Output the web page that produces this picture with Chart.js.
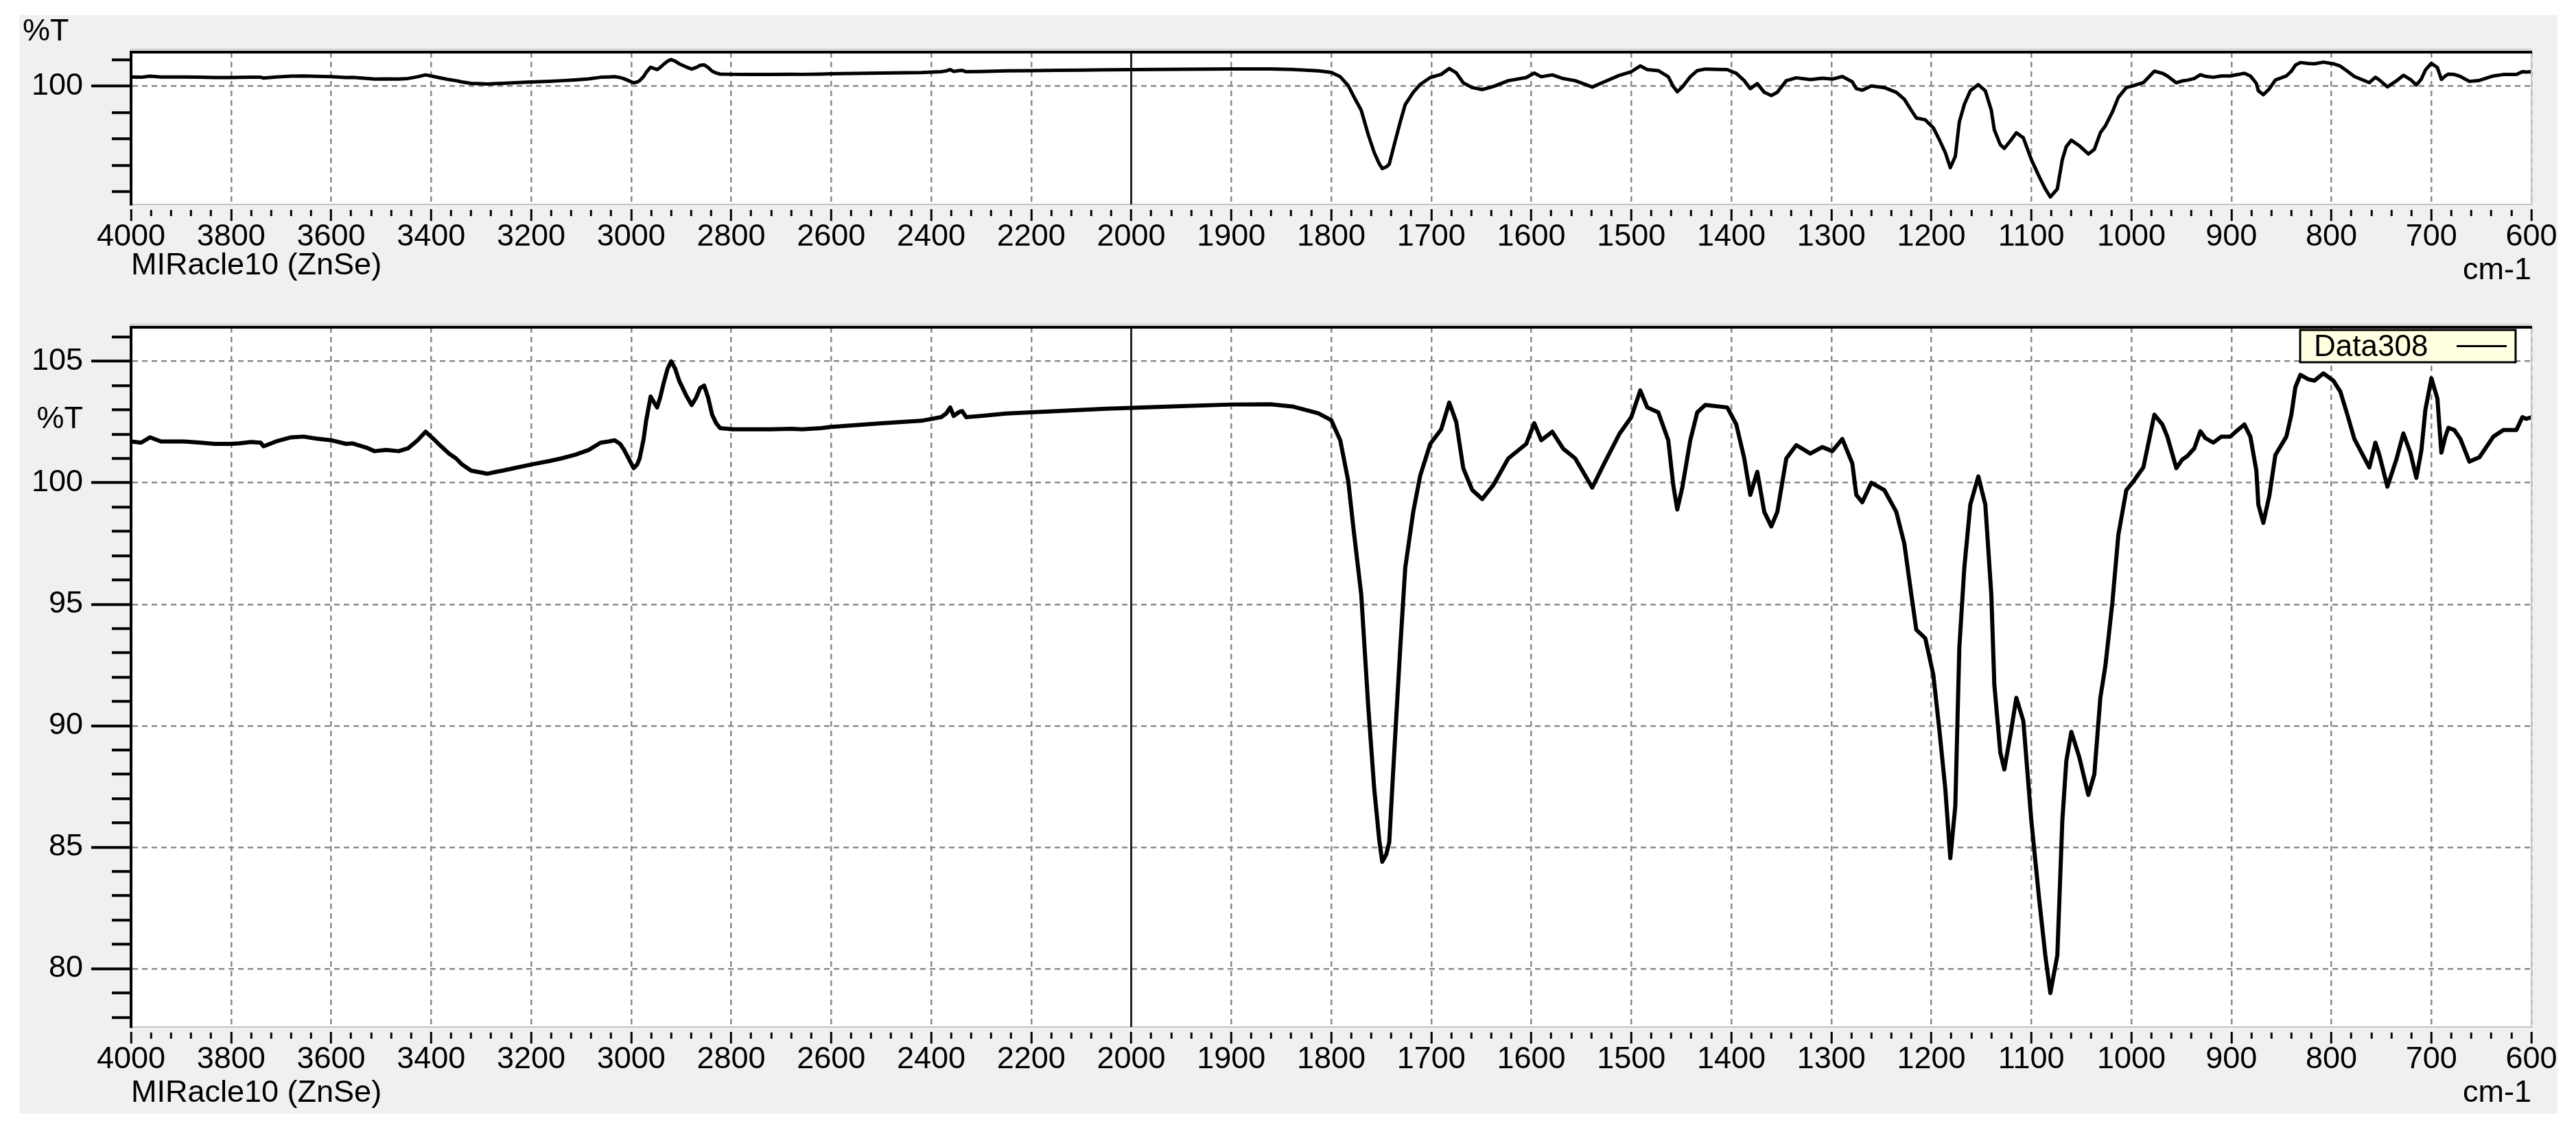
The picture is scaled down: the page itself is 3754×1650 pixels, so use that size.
<!DOCTYPE html>
<html><head><meta charset="utf-8">
<script src="https://cdn.jsdelivr.net/npm/chart.js@4.4.1/dist/chart.umd.min.js"></script>
<style>
html,body{margin:0;padding:0;background:#fff;}
#wrap{position:relative;width:3754px;height:1650px;overflow:hidden;}
#bg{position:absolute;left:28px;top:22px;width:3699px;height:1601px;background:#f0f0f0;}
canvas{position:absolute;left:0;}
#c1{top:0;width:3754px;height:420px;}
#c2{top:420px;width:3754px;height:1230px;}
</style></head><body>
<div id="wrap"><div id="bg"></div>
<canvas id="c1" width="3754" height="420"></canvas>
<canvas id="c2" width="3754" height="1230"></canvas>
</div>
<script>
// ---------------- data ----------------
const seriesName = 'Data308';
const instrumentLabel = 'MIRacle10 (ZnSe)';
const unitLabel = 'cm-1';
const yLabel = '%T';
const scaleBreak = 2000;

const wavenumbers = [
4000,3980,3962,3940,3894,3860,3833,3800,3784,3760,3741,3735,3710,3680,3655,3630,3600,3570,3557,3530,
3513,3490,3465,3446,3427,3411,3395,3380,3364,3350,3338,3320,3300,3288,3270,3257,3230,3200,3162,3140,
3112,3085,3061,3045,3033,3022,3014,3005,2995,2988,2983,2975,2970,2961,2954,2948,2942,2935,2927,2920,
2912,2904,2890,2879,2870,2862,2854,2846,2838,2830,2822,2797,2760,2721,2680,2658,2620,2600,2500,2420,
2380,2370,2362,2355,2345,2338,2330,2300,2250,2200,2150,2100,2050,2000,1950,1900,1861,1839,1813,1800,
1791,1783,1778,1770,1763,1757,1752,1749,1745,1742,1737,1731,1726,1718,1711,1701,1690,1682,1675,1668,
1659,1649,1638,1623,1605,1597,1590,1579,1568,1556,1539,1527,1512,1500,1491,1484,1473,1463,1458,1454,
1449,1441,1434,1426,1404,1395,1387,1381,1374,1367,1360,1354,1345,1335,1321,1309,1299,1289,1279,1275,
1269,1260,1247,1235,1227,1220,1215,1206,1198,1192,1186,1181,1176,1172,1167,1161,1153,1146,1140,1137,
1131,1127,1120,1115,1108,1100,1092,1086,1081,1074,1069,1065,1060,1052,1043,1037,1031,1026,1019,1013,
1005,999,988,977,969,964,955,949,944,937,931,926,918,910,901,895,887,881,875,873,
868,862,856,845,840,836,831,823,817,808,798,791,784,777,762,756,752,744,735,728,
721,715,710,706,700,694,690,686,683,677,671,662,652,638,628,615,609,605,600
];
const transmittance = [
101.7,101.65,101.87,101.7,101.7,101.65,101.6,101.6,101.62,101.68,101.65,101.5,101.7,101.87,101.9,101.82,101.75,101.6,101.62,101.45,
101.3,101.35,101.3,101.42,101.75,102.1,101.8,101.5,101.2,101.0,100.75,100.5,100.42,100.37,100.45,100.5,100.62,100.75,100.9,101.0,
101.15,101.35,101.65,101.7,101.75,101.6,101.35,101.0,100.6,100.75,101.0,101.8,102.55,103.55,103.3,103.1,103.5,104.1,104.7,105.0,
104.7,104.2,103.6,103.2,103.5,103.9,104.0,103.5,102.8,102.45,102.25,102.2,102.2,102.2,102.22,102.2,102.25,102.3,102.45,102.55,
102.7,102.85,103.1,102.75,102.9,102.95,102.7,102.75,102.85,102.9,102.95,103.0,103.05,103.08,103.15,103.22,103.23,103.14,102.86,102.58,
101.75,100.07,98.2,95.4,90.8,87.4,85.3,84.4,84.7,85.2,88.9,93.2,96.5,98.8,100.3,101.6,102.2,103.3,102.5,100.6,
99.7,99.33,99.9,101.0,101.6,102.45,101.75,102.1,101.4,101.0,99.8,100.8,102.0,102.7,103.8,103.1,102.9,101.75,99.9,98.9,
99.8,101.75,102.9,103.2,103.1,102.4,101.0,99.5,100.45,98.8,98.2,98.8,101.0,101.55,101.2,101.47,101.3,101.8,100.8,99.5,
99.2,100.0,99.7,98.8,97.5,95.4,93.95,93.6,92.1,89.85,87.4,84.55,86.7,93.2,96.5,99.1,100.26,99.1,95.4,91.7,
88.9,88.2,89.85,91.15,90.2,86.1,82.8,80.55,79.0,80.55,86.1,88.55,89.75,88.7,87.15,88.0,91.15,92.45,95.05,97.85,
99.7,100.0,100.63,102.8,102.4,101.9,100.6,100.96,101.1,101.42,102.12,101.84,101.65,101.9,101.9,102.12,102.4,101.9,100.5,99.1,
98.35,99.47,101.14,101.9,102.8,103.93,104.44,104.26,104.2,104.5,104.2,103.75,102.8,101.8,100.63,101.65,101.14,99.84,100.96,102.03,
101.24,100.2,101.33,103.0,104.3,103.47,101.24,101.9,102.26,102.17,101.8,100.87,101.05,101.9,102.17,102.17,102.7,102.63,102.7
];

// tick labels
const xTickLabels = [4000,3800,3600,3400,3200,3000,2800,2600,2400,2200,2000,1900,1800,1700,1600,1500,1400,1300,1200,1100,1000,900,800,700,600];
const yTicksBottom = [80,85,90,95,100,105];
const yTicksTop = [100];
const yMin = 77.6, yMax = 106.4;

// ---------------- axis transform (scale changes by 2x at 2000 cm-1) ----------------
function toAxis(w){ return w >= scaleBreak ? (4000 - w) / 2 : (4000 - scaleBreak) / 2 + (scaleBreak - w); }
function fromAxis(t){ const tb = (4000 - scaleBreak) / 2; return t <= tb ? 4000 - 2 * t : scaleBreak - (t - tb); }

const xMajorT = xTickLabels.map(toAxis);
const xAllT = [];
for (let i = 0; i < xMajorT.length - 1; i++) {
  const a = xMajorT[i], b = xMajorT[i+1];
  for (let k = 0; k < 5; k++) xAllT.push(Math.round((a + (b - a) * k / 5) * 1000) / 1000);
}
xAllT.push(xMajorT[xMajorT.length - 1]);
const isMajorX = v => xMajorT.some(m => Math.abs(m - v) < 1e-6);

const GRID = '#8a8a8a';
const FONT = '"Liberation Sans", Arial, sans-serif';
Chart.defaults.font.family = FONT;
Chart.defaults.color = '#000';

const decor = {
  id: 'decor',
  beforeDraw(chart) {
    const {ctx, chartArea: a} = chart;
    ctx.save();
    ctx.fillStyle = '#fff';
    ctx.fillRect(a.left, a.top, a.right - a.left, a.bottom - a.top);
    ctx.restore();
  },
  afterDatasetsDraw(chart, args, o) {
    const {ctx, chartArea: a} = chart;
    ctx.save();
    ctx.strokeStyle = '#c4c4c4'; ctx.lineWidth = 2;
    ctx.beginPath(); ctx.moveTo(a.right, a.top); ctx.lineTo(a.right, a.bottom); ctx.stroke();
    ctx.strokeStyle = '#d8d8d8'; ctx.lineWidth = 3;
    ctx.beginPath(); ctx.moveTo(a.left - 2, a.top - 4); ctx.lineTo(a.right + 1, a.top - 4); ctx.stroke();
    ctx.strokeStyle = '#000'; ctx.lineWidth = 4;
    ctx.beginPath(); ctx.moveTo(a.left - 2, a.top); ctx.lineTo(a.right + 1, a.top); ctx.stroke();

    ctx.font = '45px ' + FONT;
    ctx.fillStyle = '#000';
    ctx.textBaseline = 'middle';
    ctx.textAlign = o.pctAlign;
    ctx.fillText(yLabel, o.pctX, o.pctY);
    ctx.textAlign = 'right';
    ctx.fillText(unitLabel, a.right, a.bottom + 97);

    if (o.legend) {
      const bw = 314, bh = 47;
      const bx = a.right - 23 - bw, by = a.top + 4;
      ctx.fillStyle = '#ffffe1';
      ctx.fillRect(bx, by, bw, bh);
      ctx.strokeStyle = '#000'; ctx.lineWidth = 3;
      ctx.strokeRect(bx, by, bw, bh);
      ctx.fillStyle = '#000';
      ctx.textAlign = 'left';
      ctx.font = '44px ' + FONT;
      ctx.fillText(chart.data.datasets[0].label, bx + 20, by + bh / 2 + 2);
      ctx.lineWidth = 3;
      ctx.beginPath(); ctx.moveTo(bx + bw - 86, by + bh / 2); ctx.lineTo(bx + bw - 13, by + bh / 2); ctx.stroke();
    }
    ctx.restore();
  }
};

function makeChart(canvas, cfg) {
  const pts = wavenumbers.map((w, i) => ({x: toAxis(w), y: transmittance[i]}));
  const br = [{x: toAxis(scaleBreak), y: yMin}, {x: toAxis(scaleBreak), y: yMax}];
  const yMajor = cfg.yMajor;
  const isMajY = v => yMajor.includes(v);
  return new Chart(canvas, {
    type: 'scatter',
    data: {datasets: [
      {label: seriesName, data: pts, showLine: true, borderColor: '#000', borderWidth: cfg.lw,
       pointRadius: 0, tension: 0, borderJoinStyle: 'round', borderCapStyle: 'round', order: 1},
      {label: 'break', data: br, showLine: true, borderColor: '#222', borderWidth: 3, pointRadius: 0, order: 2}
    ]},
    options: {
      responsive: false, animation: false, devicePixelRatio: 1, events: [],
      layout: {padding: {left: 0, right: 65, top: cfg.padTop, bottom: 0}},
      plugins: {legend: {display: false}, tooltip: {enabled: false}, title: {display: false},
                decor: {pctX: cfg.pctX, pctY: cfg.pctY, pctAlign: cfg.pctAlign, legend: cfg.legend}},
      scales: {
        x: {
          type: 'linear', min: 0, max: toAxis(600),
          afterBuildTicks: s => { s.ticks = xAllT.map(v => ({value: v})); },
          afterFit: s => { s.height = cfg.xAxisHeight; },
          grid: {
            color: c => (c.tick && isMajorX(c.tick.value)) ? GRID : 'rgba(0,0,0,0)',
            lineWidth: 2.5, drawTicks: true, tickLength: 24, tickColor: '#000', tickWidth: 3,
            tickBorderDash: c => (c.tick && isMajorX(c.tick.value)) ? [0, 6, 18, 1000] : [0, 7, 9, 1000]
          },
          border: {display: true, color: '#c4c4c4', width: 2, dash: [8, 6]},
          ticks: {autoSkip: false, maxRotation: 0, minRotation: 0, padding: -3, color: '#000',
                  font: {size: 45, family: FONT},
                  callback: v => isMajorX(v) ? String(fromAxis(v)) : ''},
          title: {display: true, text: instrumentLabel, align: 'start', color: '#000',
                  font: {size: 45, family: FONT}, padding: {top: 0, bottom: cfg.titlePadBottom}}
        },
        y: {
          type: 'linear', min: yMin, max: yMax,
          afterBuildTicks: s => { s.ticks = cfg.yAll.map(v => ({value: v})); },
          afterFit: s => { s.width = 191; },
          grid: {
            color: c => (c.tick && isMajY(c.tick.value)) ? GRID : 'rgba(0,0,0,0)',
            lineWidth: 2.5, drawTicks: true, tickLength: 58, tickColor: '#000', tickWidth: 4,
            tickBorderDash: c => (c.tick && cfg.yLong.includes(c.tick.value)) ? [] : [0, 30, 28, 1000]
          },
          border: {display: true, color: '#000', width: 4, dash: [8, 6]},
          ticks: {autoSkip: false, padding: 12, color: '#000', font: {size: 45, family: FONT},
                  callback: v => isMajY(v) ? String(v) : ''}
        }
      }
    },
    plugins: [decor]
  });
}

const yAllBottom = []; for (let v = 78; v <= 106; v++) yAllBottom.push(v);
const yAllTop = [80, 85, 90, 95, 100, 105];

makeChart(document.getElementById('c1'), {
  lw: 5, padTop: 76, xAxisHeight: 122, titlePadBottom: 5,
  yMajor: yTicksTop, yLong: yTicksTop, yAll: yAllTop,
  pctX: 33, pctY: 47, pctAlign: 'left', legend: false
});
makeChart(document.getElementById('c2'), {
  lw: 6, padTop: 57, xAxisHeight: 153, titlePadBottom: 29,
  yMajor: yTicksBottom, yLong: yTicksBottom, yAll: yAllBottom,
  pctX: 121, pctY: 192, pctAlign: 'right', legend: true
});
</script>
</body></html>
